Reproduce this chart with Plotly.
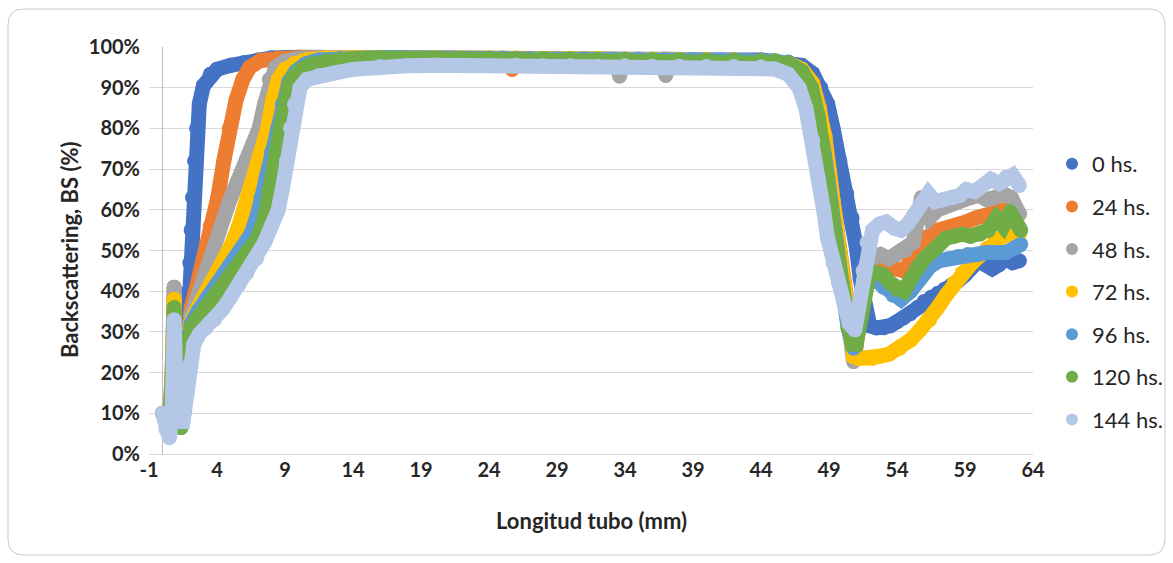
import plotly.graph_objects as go

# ---------------- data (x in mm, y in %) ----------------
names = ["0 hs.", "24 hs.", "48 hs.", "72 hs.", "96 hs.", "120 hs.", "144 hs."]
colors = ["#4472C4", "#ED7D31", "#A5A5A5", "#FFC000", "#5B9BD5", "#70AD47", "#B4C7E7"]

x_0h = [0.0, 0.3, 0.55, 0.75, 0.85, 0.95, 1.1, 1.35, 1.55, 1.7, 1.8, 1.9, 2.0, 2.1, 2.2, 2.35, 2.5, 2.7, 3.0, 3.5, 4.0,
        5.0, 6.0, 7.0, 8.0, 10, 12, 14, 16, 18, 20, 22, 24, 26, 28, 30, 32, 34, 36, 38, 40, 42, 44,
        45, 46, 47, 47.8, 48.4, 48.9, 49.3, 49.8, 50.3, 50.7, 51.0, 51.3, 51.6, 52.0, 52.5, 53.0, 53.5,
        54.0, 54.5, 55.0, 55.5, 56.0, 56.5, 57.0, 57.5, 58.0, 58.5, 59.0, 59.5, 60.0, 60.5, 61.0, 61.5,
        62.0, 62.5, 63.0]
y_0h = [10, 9, 8, 17, 27, 15, 8, 6.5, 10, 20, 32, 40, 47, 55, 63, 72, 80, 86, 90.5, 93.3, 94.5,
        95.5, 96.2, 96.8, 97.3, 97.5, 97.4, 97.3, 97.3, 97.2, 97.3, 97.2, 97.1, 97.2, 97.1, 97.0, 97.1, 97.0, 97.0, 96.9, 96.9, 96.8, 96.8,
        96.6, 96.3, 95.5, 93.5, 90, 86, 80, 72, 64, 58, 51, 43, 36, 31.5, 31, 31, 31.5,
        32.5, 33.5, 34.5, 36, 37.5, 38.5, 39.5, 40.5, 41.5, 42.5, 44, 46.5, 47.5, 46.5, 45.5, 46.5,
        48, 47, 47.5]

x_24h = [0.0, 0.3, 0.55, 0.75, 0.85, 0.95, 1.1, 1.35, 1.55, 1.7, 1.8, 2.1, 2.5, 2.95, 3.5, 4.06, 4.5, 4.9, 5.4, 5.9,
         6.4, 7.2, 8.5, 10, 12, 14, 16, 18, 20, 22, 24, 25.5, 25.7, 25.9, 28, 30, 32, 34, 36, 38, 40, 42, 44,
         45, 46, 47, 47.8, 48.3, 48.7, 49.0, 49.3, 49.6, 49.9, 50.2, 50.5, 50.9, 51.2, 51.5, 51.9, 52.5, 53.2, 53.9,
         54.5, 55.1, 55.7, 56.3, 57.0, 57.7, 58.4, 59.1, 59.8, 60.5, 61.2, 61.9, 62.5, 63.0]
y_24h = [10, 9, 8, 25, 41, 22, 8, 6.5, 10, 20, 31, 36, 41, 47, 56, 63, 72, 80, 87, 92,
         95, 96.7, 97.3, 97.4, 97.4, 97.4, 97.3, 97.4, 97.3, 97.2, 97.3, 97.2, 94.5, 97.2, 97.2, 97.1, 97.1, 97.0, 97.0, 96.9, 96.9, 96.8, 96.6,
         96.4, 96.0, 94.5, 91, 85, 78, 70, 62, 54, 46, 38, 30, 24, 32, 40, 44, 45, 46, 45.5,
         45, 48, 51, 53.5, 55, 55.5, 56, 57, 58, 58.5, 59, 60, 60.5, 59]

x_48h = [0.0, 0.3, 0.55, 0.75, 0.85, 0.95, 1.1, 1.35, 1.55, 1.7, 1.8, 2.1, 2.6, 3.1, 3.57, 4.2, 4.9, 5.5, 6.1, 6.6,
         7.1, 7.5, 7.85, 8.3, 9.0, 10, 12, 14, 16, 18, 20, 22, 24, 26, 28, 30, 32, 33.4, 33.6, 33.8, 35, 36.8, 37.0, 37.2,
         38.5, 40, 42, 44,
         45, 46, 47, 47.8, 48.3, 48.7, 49.0, 49.3, 49.6, 49.9, 50.2, 50.5, 50.8, 51.1, 51.4, 51.7, 52.2, 52.8, 53.4,
         54.0, 54.6, 55.2, 55.8, 56.4, 57.0, 57.6, 58.2, 58.8, 59.4, 60.0, 60.6, 61.2, 61.8, 62.4, 63.0]
y_48h = [10, 9, 8, 25, 41, 22, 8, 6.5, 10, 20, 30, 34, 39, 43.5, 47, 55, 62, 67, 71, 75,
         80, 86, 92, 95, 96.5, 97.2, 97.4, 97.4, 97.3, 97.4, 97.3, 97.2, 97.3, 97.2, 97.1, 97.1, 97.0, 97.0, 92.8, 97.0, 97.0, 97.0, 93.0, 97.0,
         96.9, 96.9, 96.8, 96.6,
         96.4, 96.0, 94.5, 91, 85, 78, 70, 62, 54, 46, 38, 30, 22.7, 30, 40, 46, 48, 49, 48,
         49, 50, 52, 63, 58, 60, 61, 62, 62.5, 63, 63.5, 62.5, 63, 64, 63, 59]

x_72h = [0.0, 0.3, 0.55, 0.75, 0.85, 0.95, 1.1, 1.35, 1.55, 1.7, 1.8, 2.1, 2.6, 3.2, 3.8, 4.55, 5.0, 5.6, 6.26, 6.8,
         7.3, 7.73, 8.1, 8.5, 9.0, 9.7, 10.5, 12, 14, 16, 18, 20, 22, 24, 26, 28, 30, 32, 34, 36, 38, 40, 42, 44,
         45, 46, 47, 47.8, 48.3, 48.7, 49.0, 49.3, 49.6, 49.9, 50.2, 50.5, 50.8, 51.2, 51.7, 52.2, 52.7, 53.4,
         54.2, 55.0, 55.7, 56.4, 57.0, 57.6, 58.2, 58.8, 59.4, 60.0, 60.6, 61.2, 61.8, 62.4, 63.0]
y_72h = [10, 9, 8, 23, 38, 20, 8, 6.5, 10, 20, 29.5, 32.5, 36, 39.5, 43, 47, 51, 56, 63, 68,
         74, 80, 87, 92, 94.5, 96, 96.8, 97.3, 97.4, 97.4, 97.3, 97.4, 97.3, 97.2, 97.3, 97.2, 97.1, 97.1, 97.0, 97.0, 96.9, 96.9, 96.8, 96.6,
         96.4, 96.0, 94.5, 91, 85, 78, 70, 62, 54, 46, 38, 30, 24, 23.5, 23.5, 23.5, 24, 24.5,
         26, 28, 30.5, 33, 36, 39, 42, 44.5, 46.5, 48.5, 50.5, 52.5, 53.5, 54, 54]

x_96h = [0.0, 0.3, 0.55, 0.75, 0.85, 0.95, 1.1, 1.35, 1.55, 1.7, 1.8, 2.1, 2.6, 3.2, 3.8, 4.4, 5.0, 5.3, 5.9, 6.5,
         7.0, 7.25, 7.6, 8.0, 8.45, 8.8, 9.3, 9.8, 10.5, 11.5, 13, 15, 17, 19, 21, 23, 25, 27, 29, 31, 33, 35, 37, 39, 41, 43, 44,
         45, 46, 47, 47.7, 48.2, 48.6, 48.9, 49.2, 49.5, 49.8, 50.1, 50.4, 50.8, 51.1, 51.4, 51.8, 52.3, 53.0, 53.7,
         54.3, 55.0, 55.7, 56.4, 57.1, 57.8, 58.5, 59.2, 59.9, 60.6, 61.3, 62.0, 62.6, 63.1]
y_96h = [10, 9, 8, 20, 33, 18, 8, 6.5, 10, 20, 29, 32, 35, 38, 40.5, 43, 45.5, 47, 50, 54,
         59, 63, 68, 74, 80, 86, 91.5, 94, 95.8, 96.8, 97.2, 97.3, 97.4, 97.3, 97.3, 97.2, 97.3, 97.2, 97.1, 97.1, 97.0, 97.0, 96.9, 96.9, 96.8, 96.7, 96.6,
         96.5, 96.0, 94, 90, 83, 75, 68, 60, 52, 45, 38, 31, 26, 32, 38, 42, 43, 41, 39,
         38, 40, 43, 46, 47.5, 48, 48.5, 49, 49, 49.5, 49.5, 49.5, 50.5, 51.5]

x_120h = [0.0, 0.3, 0.55, 0.75, 0.85, 0.95, 1.1, 1.35, 1.55, 1.7, 1.8, 2.1, 2.6, 3.2, 3.8, 4.4, 5.0, 5.5, 5.9, 6.5,
          7.0, 7.5, 7.85, 8.2, 8.5, 8.7, 9.0, 9.3, 9.6, 10.2, 11, 12, 13, 14, 16, 18, 20, 22, 24, 26, 28, 30, 32, 34, 36, 38, 40, 42, 44,
          45, 46, 47, 47.7, 48.2, 48.6, 48.9, 49.2, 49.5, 49.8, 50.1, 50.4, 50.7, 51.0, 51.3, 51.6, 52.0, 52.5, 53.0, 53.5,
          54.0, 54.5, 55.0, 55.5, 56.0, 56.5, 57.0, 57.6, 58.2, 58.8, 59.4, 60.1, 60.7, 61.3, 61.8, 62.3, 62.7, 63.1]
y_120h = [10, 9, 8, 22, 36, 19, 8, 6.5, 10, 19, 28, 31, 33.5, 36, 38.5, 41, 43.5, 45.5, 47, 50,
          53, 58, 63, 71, 77, 81, 87, 90.5, 92.5, 94.5, 95.8, 96.5, 96.9, 97.1, 97.3, 97.2, 97.3, 97.2, 97.2, 97.1, 97.2, 97.1, 97.0, 97.0, 96.9, 96.9, 96.8, 96.8, 96.7,
          96.6, 96.0, 94, 90, 83, 75, 68, 60, 52, 45, 38, 31, 27, 27, 34, 41, 45, 44.5, 44, 42,
          40.5, 40, 43, 46, 48, 49.5, 51, 53, 53.5, 54, 53.5, 54, 55, 58, 56, 59.5, 57, 55]

x_144h = [0.0, 0.25, 0.5, 0.7, 0.85, 1.0, 1.2, 1.5, 1.8, 2.0, 2.3, 2.7, 3.2, 3.8, 4.4, 5.0, 5.6, 6.2, 6.9, 7.5, 8.0,
          8.5, 8.8, 9.1, 9.4, 9.7, 10.1, 10.6, 11.5, 12.5, 14, 16, 18, 20, 22, 24, 26, 28, 30, 32, 34, 36, 38, 40, 42, 44,
          45, 46, 46.8, 47.3, 47.8, 48.2, 48.6, 48.9, 49.3, 49.7, 50.1, 50.5, 50.9, 51.2, 51.5, 51.8, 52.2, 52.7, 53.2,
          53.8, 54.3, 54.8, 55.2, 55.7, 56.3, 56.8, 57.4, 58.0, 58.6, 59.1, 59.7, 60.3, 60.9, 61.5, 62.0, 62.5, 63.0]
y_144h = [10, 6, 4, 10, 33, 14, 8, 8, 15, 22, 27, 29.5, 31, 33, 35.5, 38.5, 41.5, 44.5, 48, 52, 56,
          60, 65, 72, 80, 86, 90, 92, 93, 93.5, 94.5, 95.2, 95.4, 95.5, 95.5, 95.4, 95.5, 95.4, 95.4, 95.3, 95.4, 95.3, 95.3, 95.2, 95.2, 95.1,
          94.6, 93.3, 90, 85, 77, 68, 60, 53, 47, 42, 37, 32, 30.5, 36, 45, 52, 55, 56.5, 57,
          55.5, 55, 56.5, 58.5, 61, 64, 62, 62.5, 63, 63.5, 65, 64.5, 66, 67.5, 66.5, 68, 68.5, 66]

xs = [x_0h, x_24h, x_48h, x_72h, x_96h, x_120h, x_144h]
ys = [y_0h, y_24h, y_48h, y_72h, y_96h, y_120h, y_144h]

x_ticks = [-1, 4, 9, 14, 19, 24, 29, 34, 39, 44, 49, 54, 59, 64]
y_ticks = [0, 10, 20, 30, 40, 50, 60, 70, 80, 90, 100]

# ---------------- layout helpers ----------------
W, H = 1173, 563
L, R, T, B = 149, 140, 47, 109
PW, PH = W - L - R, H - T - B


def px(x):
    return (x - L) / PW


def py(y):
    return (H - B - y) / PH


FONT = "Lato"
TXT = "#262626"

fig = go.Figure()
for name, c, x, y in zip(names, colors, xs, ys):
    fig.add_trace(go.Scatter(
        x=x, y=[v / 100 for v in y], mode="lines+markers", name=name,
        line=dict(color=c, width=15), marker=dict(color=c, size=15),
        showlegend=False, cliponaxis=False, hoverinfo="skip"))
for name, c in zip(names, colors):
    fig.add_trace(go.Scatter(
        x=[None], y=[None], mode="markers", name=name,
        marker=dict(color=c, size=15), legendgroup=name, showlegend=True))

# rounded outer border
x0, x1, y0, y1, r = 8, 1165, 9, 555, 16
path = (f"M {px(x0 + r)} {py(y0)} L {px(x1 - r)} {py(y0)} Q {px(x1)} {py(y0)} {px(x1)} {py(y0 + r)} "
        f"L {px(x1)} {py(y1 - r)} Q {px(x1)} {py(y1)} {px(x1 - r)} {py(y1)} "
        f"L {px(x0 + r)} {py(y1)} Q {px(x0)} {py(y1)} {px(x0)} {py(y1 - r)} "
        f"L {px(x0)} {py(y0 + r)} Q {px(x0)} {py(y0)} {px(x0 + r)} {py(y0)} Z")
fig.add_shape(type="path", path=path, xref="paper", yref="paper",
              line=dict(color="#C9C9C9", width=1), layer="below")

fig.update_layout(
    width=W, height=H,
    margin=dict(l=L, r=R, t=T, b=B, autoexpand=False),
    paper_bgcolor="white", plot_bgcolor="white",
    font=dict(family=FONT, size=20, color=TXT),
    xaxis=dict(range=[-1, 64], tickmode="array", tickvals=x_ticks,
               ticktext=[f"<b>{v}</b>" for v in x_ticks], tickfont=dict(size=20),
               showgrid=False, zeroline=True, zerolinecolor="#BFBFBF", zerolinewidth=1,
               showline=False, ticks="", ticklabelstandoff=2),
    yaxis=dict(range=[0, 1], tickmode="array", tickvals=[v / 100 for v in y_ticks],
               ticktext=[f"<b>{v}%</b>" for v in y_ticks], tickfont=dict(size=20),
               showgrid=True, gridcolor="#D9D9D9", gridwidth=1,
               zeroline=True, zerolinecolor="#D9D9D9", zerolinewidth=1,
               showline=False, ticks="", ticklabelstandoff=8),
    legend=dict(x=px(1052), y=py(143), xanchor="left", yanchor="top",
                font=dict(family=FONT, size=22, color=TXT), tracegroupgap=11,
                itemwidth=30, bgcolor="rgba(0,0,0,0)"),
    showlegend=True,
    annotations=[
        dict(text="<b>Backscattering, BS (%)</b>", x=px(70), y=py(250), xref="paper", yref="paper",
             textangle=-90, showarrow=False, font=dict(family=FONT, size=22, color=TXT),
             xanchor="center", yanchor="middle"),
        dict(text="<b>Longitud tubo (mm)</b>", x=px(591), y=py(520), xref="paper", yref="paper",
             showarrow=False, font=dict(family=FONT, size=22, color=TXT),
             xanchor="center", yanchor="middle"),
    ],
)
fig.update_legends(itemsizing="constant")

fig.write_html("out.html")
